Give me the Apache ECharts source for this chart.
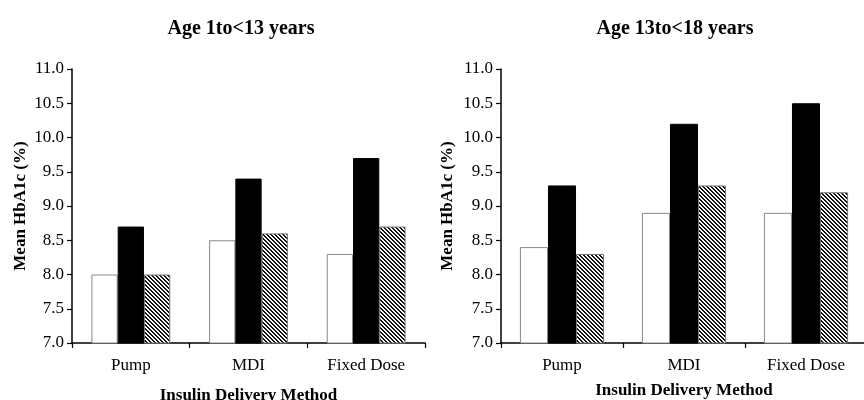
<!DOCTYPE html>
<html>
<head>
<meta charset="utf-8">
<script src="https://cdn.jsdelivr.net/npm/echarts@6/dist/echarts.min.js"></script>
<style>
html,body{margin:0;padding:0;background:#fff;}
#chart{width:864px;height:400px;}
</style>
</head>
<body>
<div id="chart"></div>
<script>
const categories = ['Pump', 'MDI', 'Fixed Dose'];
const panelTitles = ['Age 1to<13 years', 'Age 13to<18 years'];
const seriesNames = ['Group 1', 'Group 2', 'Group 3'];
// Age 1 to <13 years
const young1 = [8.0, 8.5, 8.3];
const young2 = [8.7, 9.4, 9.7];
const young3 = [8.0, 8.6, 8.7];
// Age 13 to <18 years
const teen1 = [8.4, 8.9, 8.9];
const teen2 = [9.3, 10.2, 10.5];
const teen3 = [8.3, 9.3, 9.2];
const yMin = 7.0, yMax = 11.0, yStep = 0.5;

// hatch pattern (diagonal lines top-left to bottom-right)
const pc = document.createElement('canvas');
pc.width = 4; pc.height = 4;
const ctx = pc.getContext('2d');
ctx.fillStyle = '#fff';
ctx.fillRect(0, 0, 4, 4);
ctx.fillStyle = '#111';
for (let i = 0; i < 4; i++) {
  ctx.fillRect(i, i, 1, 1);
  ctx.fillRect((i + 1) % 4, i, 1, 1);
}
const hatch = { image: pc, repeat: 'repeat' };

const font = '"Liberation Serif", "Times New Roman", serif';
const styles = [
  { color: '#fff', borderColor: '#888', borderWidth: 1 },
  { color: '#000', borderColor: '#000', borderWidth: 1 },
  { color: hatch, borderColor: '#777', borderWidth: 1 }
];

const grids = [
  { left: 72, top: 69, width: 353, height: 274, outerBoundsMode: 'none', containLabel: false },
  { left: 501, top: 69, width: 366, height: 274, outerBoundsMode: 'none', containLabel: false }
];
const data = [[young1, young2, young3], [teen1, teen2, teen3]];
const xNameGaps = [44, 39];
const yNameGaps = [43, 45];

const chart = echarts.init(document.getElementById('chart'));
const option = {
  backgroundColor: '#fff',
  animation: false,
  title: panelTitles.map((t, i) => ({
    text: t,
    left: i === 0 ? 236 : 670,
    top: 14,
    textAlign: 'center',
    textStyle: { fontFamily: font, fontWeight: 'bold', fontSize: 20, color: '#000' }
  })),
  grid: grids,
  xAxis: grids.map((g, i) => ({
    type: 'category',
    gridIndex: i,
    data: categories,
    name: 'Insulin Delivery Method',
    nameLocation: 'middle',
    nameGap: xNameGaps[i],
    nameTextStyle: { fontFamily: font, fontWeight: 'bold', fontSize: 17, color: '#000' },
    axisLine: { lineStyle: { color: '#000', width: 1.5 } },
    axisTick: { show: true, length: 5, lineStyle: { color: '#000', width: 1.2 } },
    axisLabel: { fontFamily: font, fontSize: 17, color: '#000', margin: 14 },
    splitLine: { show: false }
  })),
  yAxis: grids.map((g, i) => ({
    type: 'value',
    gridIndex: i,
    min: yMin,
    max: yMax,
    interval: yStep,
    name: 'Mean HbA1c (%)',
    nameLocation: 'middle',
    nameGap: yNameGaps[i],
    nameTextStyle: { fontFamily: font, fontWeight: 'bold', fontSize: 17, color: '#000' },
    axisLine: { show: true, lineStyle: { color: '#000', width: 1.5 } },
    axisTick: { show: true, length: 5, lineStyle: { color: '#000', width: 1.2 } },
    axisLabel: { fontFamily: font, fontSize: 17, color: '#000', margin: 8,
      formatter: v => v.toFixed(1) },
    splitLine: { show: false }
  })),
  series: []
};
data.forEach((panel, p) => {
  panel.forEach((vals, s) => {
    option.series.push({
      type: 'bar',
      name: seriesNames[s],
      xAxisIndex: p,
      yAxisIndex: p,
      data: vals,
      barGap: '0%',
      barCategoryGap: p === 0 ? '33%' : '31%',
      itemStyle: styles[s],
      emphasis: { disabled: true }
    });
  });
});
chart.setOption(option);
</script>
</body>
</html>
